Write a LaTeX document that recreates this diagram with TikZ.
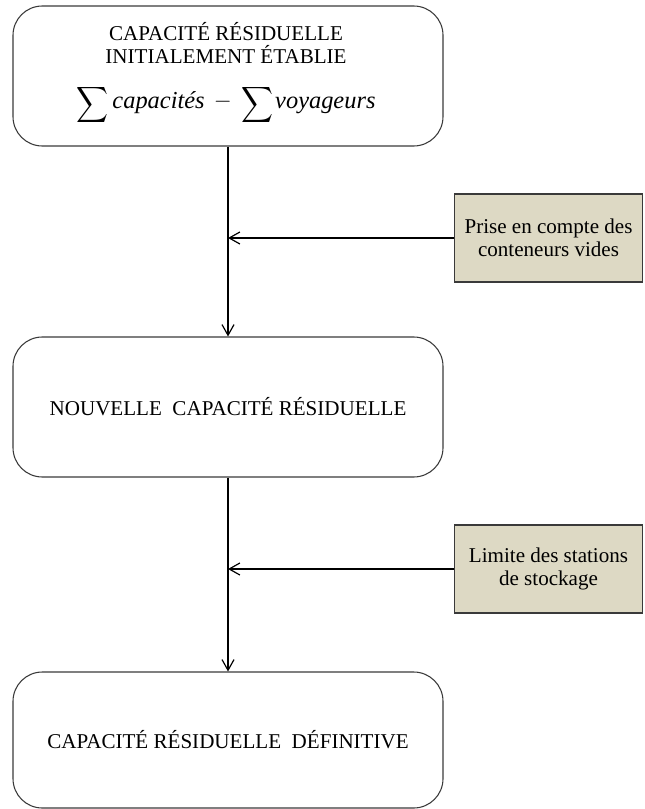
\documentclass[tikz,border=0pt]{standalone}
\usepackage{amsmath}
\usepackage{graphicx}
\usepackage{fontspec}
\setmainfont{Liberation Serif}
\usetikzlibrary{arrows.meta}
\definecolor{tan}{HTML}{DDD9C4}
\definecolor{edge}{HTML}{3A3A3A}
\newcommand{\bigsumsym}{\raisebox{-1.8pt}{\resizebox*{24pt}{30pt}{$\displaystyle\sum$}}}
\tikzset{
  mainbox/.style={draw=edge, line width=0.8pt, rounded corners=22pt, minimum width=322.5pt, minimum height=105pt, inner sep=0pt, align=center, font=\fontsize{15.8pt}{17.25pt}\selectfont},
  boxtext/.style={inner sep=0pt, align=center, font=\fontsize{15.8pt}{17.25pt}\selectfont},
  sidebox/.style={draw=edge, fill=tan, line width=0.8pt, minimum width=141pt, minimum height=66pt, inner sep=0pt, align=center, font=\fontsize{15.8pt}{17.25pt}\selectfont},
  arr/.style={draw=black, line width=1.1pt, -{Straight Barb[length=8pt, width=9pt, line width=0.9pt]}}
}
\begin{document}
\begin{tikzpicture}[x=0.75pt, y=-0.75pt]
\useasboundingbox (0,0) rectangle (644,809);
\node[mainbox] (a) at (228,76) {};
\node[boxtext, anchor=north] (atext) at (226,22) {CAPACITÉ RÉSIDUELLE\\INITIALEMENT ÉTABLIE\\[15pt]
  \bigsumsym\hspace{3pt}{\fontsize{18.3pt}{20pt}\selectfont\itshape capacités\hspace{7pt}\raisebox{0.5pt}{$-$}\hspace{7pt}}\bigsumsym\hspace{1.5pt}{\fontsize{18.3pt}{20pt}\selectfont\itshape voyageurs}};
\node[mainbox] (b) at (228,407) {NOUVELLE\ \ CAPACITÉ RÉSIDUELLE};
\node[mainbox, minimum height=102pt] (c) at (228,740) {CAPACITÉ RÉSIDUELLE\ \ DÉFINITIVE};
\node[sidebox] (s1) at (548.5,238) {Prise en compte des\\conteneurs vides};
\node[sidebox] (s2) at (548.5,569) {Limite des stations\\de stockage};
\coordinate (j1) at (a.south |- s1.west);
\coordinate (j2) at (b.south |- s2.west);
\draw[arr] (a.south) -- (b.north);
\draw[arr] (b.south) -- (c.north);
\draw[arr] (s1.west) -- (j1);
\draw[arr] (s2.west) -- (j2);
\end{tikzpicture}
\end{document}
